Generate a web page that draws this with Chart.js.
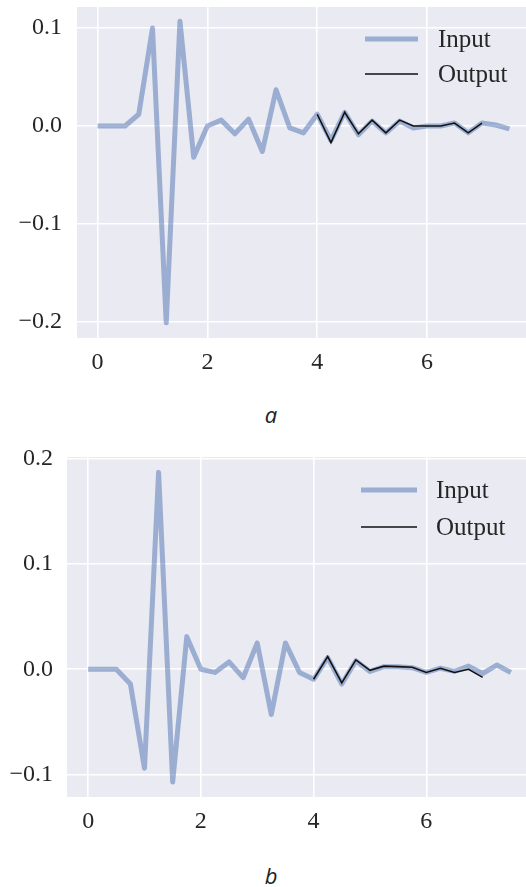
<!DOCTYPE html>
<html>
<head>
<meta charset="utf-8">
<script src="https://cdn.jsdelivr.net/npm/chart.js@4/dist/chart.umd.min.js"></script>
<style>
  html, body { margin:0; padding:0; background:#fff; overflow:hidden; }
  #wrap { position:relative; width:526px; height:887px; overflow:hidden; }
  .box { position:absolute; left:0; }
  .cap { position:absolute; font-family:'Open Sans', sans-serif; font-style:italic; font-size:22px; color:#222; transform:translate(-50%,-50%); line-height:1; }
</style>
</head>
<body>
<div id="wrap">
  <div class="box" style="top:0"><canvas id="ca" width="540" height="390"></canvas></div>
  <div class="cap" style="left:271px; top:414px;">a</div>
  <div class="box" style="top:440px"><canvas id="cb" width="545" height="400"></canvas></div>
  <div class="cap" style="left:271px; top:875px;">b</div>
</div>
<script>
// ---- data ----
const timeIn = [0, 0.25, 0.5, 0.75, 1, 1.25, 1.5, 1.75, 2, 2.25, 2.5, 2.75, 3, 3.25, 3.5, 3.75,
                4, 4.25, 4.5, 4.75, 5, 5.25, 5.5, 5.75, 6, 6.25, 6.5, 6.75, 7, 7.25, 7.5];
const timeOut = [4, 4.25, 4.5, 4.75, 5, 5.25, 5.5, 5.75, 6, 6.25, 6.5, 6.75, 7];

const inputA = [0, 0, 0, 0.012, 0.1, -0.201, 0.107, -0.032, 0, 0.006, -0.008, 0.007, -0.026, 0.037, -0.002, -0.007,
                0.012, -0.015, 0.014, -0.009, 0.005, -0.007, 0.005, -0.002, 0, 0, 0.003, -0.007, 0.003, 0.001, -0.003];
const outputA = [0.012, -0.017, 0.014, -0.008, 0.006, -0.007, 0.006, 0, 0, 0, 0.003, -0.007, 0.003];

const inputB = [0, 0, 0, -0.014, -0.094, 0.187, -0.107, 0.031, 0, -0.003, 0.007, -0.008, 0.025, -0.043, 0.025, -0.003,
                -0.0095, 0.011, -0.014, 0.008, -0.002, 0.0025, 0.0025, 0.0015, -0.003, 0.001, -0.002, 0.003, -0.004, 0.004, -0.003];
const outputB = [-0.0095, 0.012, -0.013, 0.009, -0.001, 0.003, 0.0025, 0.002, -0.003, 0.001, -0.003, 0, -0.0077];

const seriesNames = ['Input', 'Output'];
const xTickStep = 2;
const yTickStep = 0.1;

// ---- helpers ----
function pts(xs, ys) { return xs.map((x, i) => ({ x: x, y: ys[i] })); }
function fmtY(v) {
  if (Math.abs(v) < 1e-9) return '0.0';
  return v.toFixed(1).replace('-', '\u2212');
}

const bgPlugin = {
  id: 'plotBg',
  beforeDraw(chart) {
    const a = chart.chartArea, c = chart.ctx;
    c.save();
    c.fillStyle = '#EAEAF2';
    c.fillRect(a.left, a.top, a.right - a.left, a.bottom - a.top);
    c.restore();
  }
};

const legendPlugin = {
  id: 'lineLegend',
  afterDraw(chart, args, opts) {
    const c = chart.ctx;
    c.save();
    chart.data.datasets.forEach((ds, i) => {
      const y = opts.y0 + i * opts.dy;
      c.strokeStyle = ds.borderColor;
      c.lineWidth = ds.borderWidth;
      c.lineCap = 'butt';
      c.beginPath();
      c.moveTo(opts.x0, y);
      c.lineTo(opts.x1, y);
      c.stroke();
      c.fillStyle = '#262626';
      c.font = opts.fontSize + 'px "Liberation Serif", serif';
      c.textBaseline = 'middle';
      c.textAlign = 'left';
      c.fillText(ds.label, opts.tx, y + 1);
    });
    c.restore();
  }
};

function makeChart(id, inY, outY, yMin, yMax, pad, yW, xH, leg, fontSize) {
  return new Chart(document.getElementById(id), {
    type: 'line',
    data: {
      datasets: [
        { label: seriesNames[0], data: pts(timeIn, inY), borderColor: 'rgba(76,114,176,0.5)', borderWidth: 5,
          pointRadius: 0, tension: 0, borderJoinStyle: 'round', borderCapStyle: 'butt', order: 2 },
        { label: seriesNames[1], data: pts(timeOut, outY), borderColor: '#111111', borderWidth: 1.6,
          pointRadius: 0, tension: 0, borderJoinStyle: 'miter', order: 1 }
      ]
    },
    options: {
      responsive: false,
      animation: false,
      devicePixelRatio: 1,
      layout: { padding: { top: pad.top, right: pad.right, left: 0, bottom: 0 } },
      plugins: { legend: { display: false }, tooltip: { enabled: false }, lineLegend: leg },
      scales: {
        x: {
          type: 'linear', min: -0.375, max: 7.875,
          grid: { color: '#ffffff', lineWidth: 1.6, drawTicks: false },
          border: { display: false },
          ticks: { stepSize: xTickStep, includeBounds: false, padding: 10, color: '#262626',
                   font: { family: 'Liberation Serif', size: fontSize }, callback: v => String(v) },
          afterFit: s => { s.height = xH; s.paddingLeft = 0; s.paddingRight = 0; }
        },
        y: {
          type: 'linear', min: yMin, max: yMax,
          grid: { color: '#ffffff', lineWidth: 1.6, drawTicks: false },
          border: { display: false },
          ticks: { stepSize: yTickStep, includeBounds: false, padding: pad.yPad, color: '#262626',
                   font: { family: 'Liberation Serif', size: fontSize }, callback: v => fmtY(v) },
          afterFit: s => { s.width = yW; s.paddingTop = 0; s.paddingBottom = 0; }
        }
      }
    },
    plugins: [bgPlugin, legendPlugin]
  });
}

makeChart('ca', inputA, outputA, -0.2165, 0.1215,
  { top: 7, right: 10, yPad: 15 }, 77, 52,
  { x0: 365, x1: 418, tx: 438, y0: 39, dy: 35, fontSize: 25 }, 24);

makeChart('cb', inputB, outputB, -0.1213, 0.2016,
  { top: 17, right: 13, yPad: 14 }, 67, 43,
  { x0: 361, x1: 417, tx: 436, y0: 50, dy: 37, fontSize: 25 }, 24);
</script>
</body>
</html>
